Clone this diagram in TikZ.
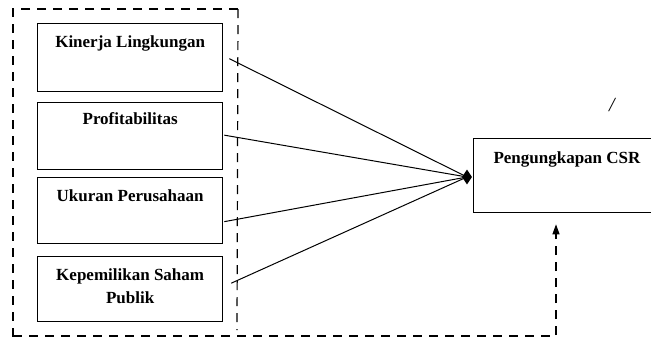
\documentclass[tikz,border=0pt]{standalone}
\usepackage{fontspec}
\setmainfont{Liberation Serif}
\usetikzlibrary{arrows.meta,shapes.geometric,calc}
\begin{document}
\begin{tikzpicture}[x=1pt,y=-1pt,
  box/.style={draw, line width=1.3pt, rectangle, anchor=north west, inner sep=0},
  lab/.style={font=\bfseries\fontsize{17}{23}\selectfont, inner sep=0, anchor=north, align=center},
  conn/.style={line width=1pt},
  dsh/.style={line width=1.2pt, dash pattern=on 9pt off 7pt}]
\useasboundingbox (0,0) rectangle (651,338);
\fill[white] (0,0) rectangle (651,338);
% left boxes
\node[box, minimum width=185pt, minimum height=68pt] (b1) at (37,23) {};
\node[box, minimum width=185pt, minimum height=67pt] (b2) at (37,102) {};
\node[box, minimum width=185pt, minimum height=66pt] (b3) at (37,177) {};
\node[box, minimum width=185pt, minimum height=65pt] (b4) at (37,256) {};
\node[lab] (t1) at ([yshift=-13pt]b1.north) {Kinerja Lingkungan};
\node[lab] (t2) at ([yshift=-10pt]b2.north) {Profitabilitas};
\node[lab] (t3) at ([yshift=-12pt]b3.north) {Ukuran Perusahaan};
\node[lab] (t4) at ([yshift=-12pt]b4.north) {Kepemilikan Saham\\Publik};
% target box
\node[box, minimum width=190pt, minimum height=74pt] (csr) at (473,138) {};
\node[lab] (t5) at ([yshift=-13pt]csr.north -| 567,0) {Pengungkapan CSR};
% convergence tip
\node[diamond, fill, inner sep=0, minimum width=10pt, minimum height=15pt] (tip) at (467,177) {};
\draw[conn] ($(b1.east)+(6,1)$) -- (tip.center);
\draw[conn] ($(b2.east)+(1,-1)$) -- (tip.center);
\draw[conn] ($(b3.east)+(1,11)$) -- (tip.center);
\draw[conn] ($(b4.east)+(8,-6)$) -- (tip.center);
% dashed frame
\coordinate (fTL) at (13,9);
\coordinate (fTR) at (238,9);
\coordinate (fBL) at (13,336);
\coordinate (fBR) at (556,336);
\draw[dsh] (fTR) -- (fTL) -- (13,338);
\draw[dsh] (fTR) -- (237,330);
\draw[dsh,-{Triangle[length=10pt,width=7pt]}] (fBL) -- (fBR) -- ($(fBR |- csr.south)+(0,11)$);
% slash mark
\node[font=\itshape\fontsize{20}{20}\selectfont, inner sep=0] (sl) at (612,105) {/};
\end{tikzpicture}
\end{document}
